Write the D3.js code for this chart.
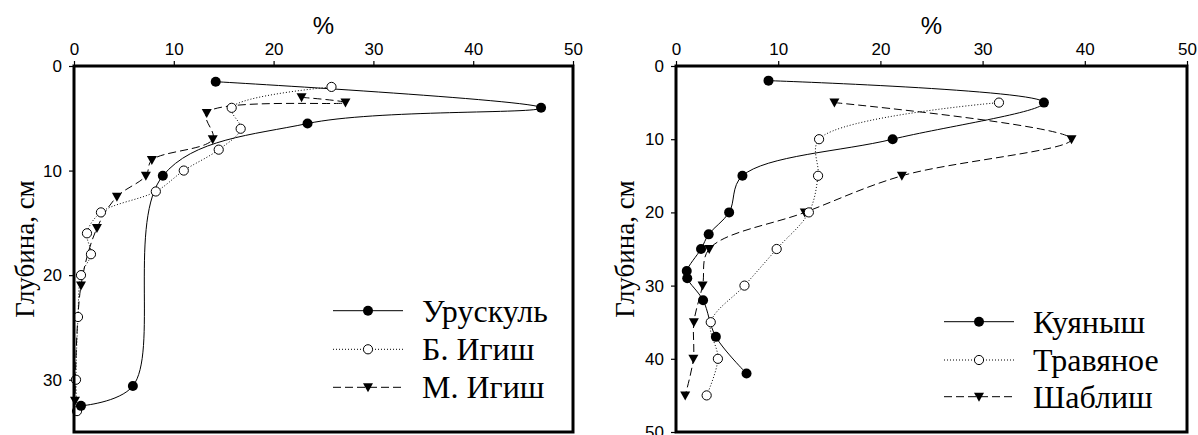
<!DOCTYPE html>
<html><head><meta charset="utf-8">
<script src="https://cdn.jsdelivr.net/npm/d3@7"></script>
<style>
html,body{margin:0;padding:0;background:#fff;}
svg{display:block;}
</style>
</head><body>
<svg id="chart" width="1198" height="435"></svg>
<script>
// ---- data ----
const xTicks = [0, 10, 20, 30, 40, 50];
const leftDepthTicks = [0, 10, 20, 30];
const rightDepthTicks = [0, 10, 20, 30, 40, 50];

const uruskulX = [14.2, 46.8, 23.4, 8.9, 5.9, 0.7];
const uruskulD = [1.5, 4, 5.5, 10.5, 30.6, 32.5];
const bIgishX = [25.8, 15.8, 16.7, 14.5, 11.0, 8.2, 2.7, 1.3, 1.7, 0.7, 0.4, 0.2, 0.3];
const bIgishD = [2, 4, 6, 8, 10, 12, 14, 16, 18, 20, 24, 30, 33];
const mIgishX = [22.8, 27.2, 13.3, 13.9, 7.8, 7.2, 4.3, 2.3, 0.7, 0.1];
const mIgishD = [3, 3.5, 4.5, 7, 9, 10.5, 12.5, 15.5, 21, 32];

const kuyanyshX = [9.05, 36.0, 21.2, 6.5, 5.2, 3.2, 2.45, 1.05, 1.1, 2.65, 3.9, 6.9];
const kuyanyshD = [2, 5, 10, 15, 20, 23, 25, 28, 29, 32, 37, 42];
const travyanoeX = [31.6, 14.0, 13.9, 13.0, 9.85, 6.7, 3.4, 4.1, 3.0];
const travyanoeD = [5, 10, 15, 20, 25, 30, 35, 40, 45];
const shablishX = [15.5, 38.7, 22.1, 12.6, 3.25, 2.6, 1.75, 1.7, 0.9];
const shablishD = [5, 10, 15, 20, 25, 30, 35, 40, 45];

const leftNames = ["Урускуль", "Б. Игиш", "М. Игиш"];
const rightNames = ["Куяныш", "Травяное", "Шаблиш"];
const xTitle = "%";
const yTitle = "Глубина, см";

// ---- drawing ----
const svg = d3.select("#chart");
const SANS = "'Liberation Sans', Arial, sans-serif";
const SERIF = "'Liberation Serif', 'Times New Roman', serif";
const styles = [
  {dash: null, marker: "filled"},
  {dash: "1,2", marker: "open"},
  {dash: "8,4", marker: "tri"}
];
function zip(xs, ds) { return xs.map((v, i) => [v, ds[i]]); }

function drawMarker(g, type, cx, cy) {
  if (type === "filled") {
    g.append("circle").attr("cx", cx).attr("cy", cy).attr("r", 5).attr("fill", "#000");
  } else if (type === "open") {
    g.append("circle").attr("cx", cx).attr("cy", cy).attr("r", 4.6)
      .attr("fill", "#fff").attr("stroke", "#000").attr("stroke-width", 1);
  } else {
    g.append("path").attr("d", `M${cx-5},${cy-4}L${cx+5},${cy-4}L${cx},${cy+5}Z`).attr("fill", "#000");
  }
}

function panel(opt) {
  const x = d3.scaleLinear().domain([0, 50]).range([opt.x0, opt.x1]);
  const y = d3.scaleLinear().domain([0, opt.dmax]).range([opt.y0, opt.y1]);
  const g = svg.append("g");

  // axes
  const ax = g.append("g").attr("transform", `translate(0,${opt.y0})`)
    .call(d3.axisTop(x).tickValues(xTicks).tickSize(5).tickPadding(6));
  const ay = g.append("g").attr("transform", `translate(${opt.x0},0)`)
    .call(d3.axisLeft(y).tickValues(opt.dTicks).tickSize(5).tickPadding(7));
  [ax, ay].forEach(a => {
    a.select(".domain").remove();
    a.selectAll("line").attr("stroke", "#000").attr("stroke-width", 1.2);
    a.selectAll("text").attr("font-family", SANS).attr("font-size", 17).attr("fill", "#000");
  });

  // series
  const line = d3.line().x(d => x(d[0])).y(d => y(d[1])).curve(d3.curveCatmullRom.alpha(0.5));
  opt.series.forEach((s, i) => {
    const pts = zip(s[0], s[1]);
    g.append("path").attr("d", line(pts)).attr("fill", "none")
      .attr("stroke", "#000").attr("stroke-width", 1)
      .attr("stroke-dasharray", styles[i].dash);
  });
  for (let i = opt.series.length - 1; i >= 0; i--) {
    const s = opt.series[i];
    zip(s[0], s[1]).forEach(p => drawMarker(g, styles[i].marker, x(p[0]), y(p[1])));
  }

  // frame
  g.append("rect").attr("x", opt.x0).attr("y", opt.y0)
    .attr("width", opt.x1 - opt.x0).attr("height", opt.y1 - opt.y0)
    .attr("fill", "none").attr("stroke", "#000").attr("stroke-width", 3);

  // titles
  g.append("text").attr("x", (opt.x0 + opt.x1) / 2).attr("y", 34)
    .attr("text-anchor", "middle").attr("font-family", SANS).attr("font-size", 24)
    .text(xTitle);
  g.append("text")
    .attr("transform", `translate(${opt.ytx},${(opt.y0 + opt.y1) / 2}) rotate(-90)`)
    .attr("text-anchor", "middle").attr("dominant-baseline", "central")
    .attr("font-family", SERIF).attr("font-size", 27).text(yTitle);

  // legend
  opt.names.forEach((n, i) => {
    const ly = opt.legY[i];
    g.append("line").attr("x1", opt.legX).attr("x2", opt.legX + 70)
      .attr("y1", ly).attr("y2", ly).attr("stroke", "#000").attr("stroke-width", 1)
      .attr("stroke-dasharray", styles[i].dash);
    drawMarker(g, styles[i].marker, opt.legX + 35, ly);
    g.append("text").attr("x", opt.legX + 89).attr("y", ly + 11)
      .attr("font-family", SERIF).attr("font-size", 32).text(n);
  });
}

panel({
  x0: 74, x1: 573, y0: 66, y1: 432, dmax: 35, dTicks: leftDepthTicks, ytx: 25,
  series: [[uruskulX, uruskulD], [bIgishX, bIgishD], [mIgishX, mIgishD]],
  names: leftNames, legX: 333, legY: [310.7, 349.3, 387.3]
});
panel({
  x0: 676, x1: 1187, y0: 66, y1: 432, dmax: 50, dTicks: rightDepthTicks, ytx: 625,
  series: [[kuyanyshX, kuyanyshD], [travyanoeX, travyanoeD], [shablishX, shablishD]],
  names: rightNames, legX: 944, legY: [321.7, 360, 396.7]
});
</script>
</body></html>
